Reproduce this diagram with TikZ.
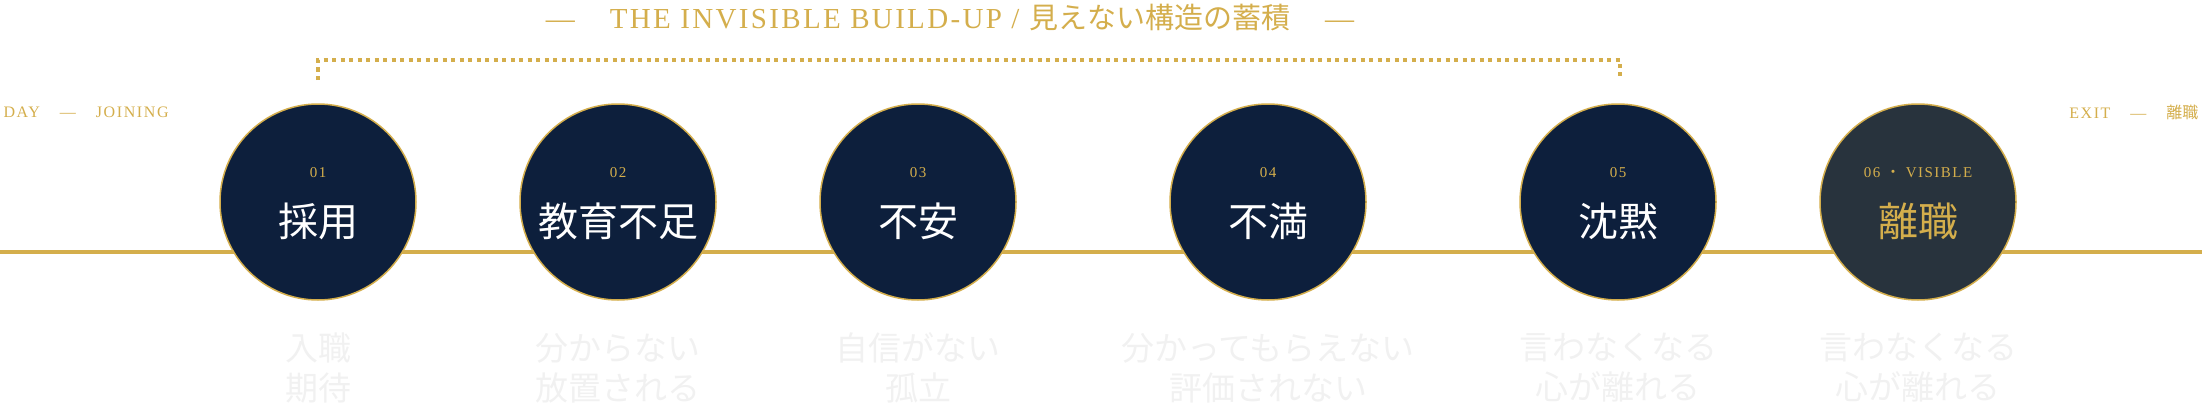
\documentclass[tikz,border=0pt]{standalone}
\usepackage{fontspec}
\setmainfont{Liberation Serif}
\newfontfamily\jp{Noto Sans CJK JP}
\begin{document}
\definecolor{gold}{HTML}{D4AE4C}
\definecolor{navy}{HTML}{0D1F3C}
\definecolor{slate}{HTML}{28333D}
\definecolor{faint}{HTML}{F1F1F1}
\begin{tikzpicture}[x=1pt,y=-1pt,
  stage/.style={circle,draw=gold,line width=1.5pt,fill=navy,minimum size=196pt,inner sep=0pt},
  num/.style={text=gold,font=\fontsize{15}{17}\selectfont\addfontfeature{LetterSpace=10}},
  lab/.style={text=white,font=\jp\fontsize{40}{44}\selectfont},
  sub/.style={text=faint,font=\jp\fontsize{33}{40}\selectfont,align=center},
  side/.style={text=gold,font=\fontsize{16}{18}\selectfont\addfontfeature{LetterSpace=10}}]
\useasboundingbox (0,0) rectangle (2202,404);
\coordinate (L) at (0,252);
\coordinate (R) at (2202,252);
\draw[gold,line width=4pt] (L) -- (R);
\foreach \i/\x/\n/\t/\s in {1/318/01/採用/{入職\\期待},2/618/02/教育不足/{分からない\\放置される},3/918/03/不安/{自信がない\\孤立},4/1268/04/不満/{分かってもらえない\\評価されない},5/1618/05/沈黙/{言わなくなる\\心が離れる}}{
  \node[stage] (c\i) at (\x,202) {};
  \node[num] (n\i) at (\x,173) {\n};
  \node[lab] (t\i) at (\x,221) {\t};
  \node[sub] (s\i) at (\x,368) {\s};
}
\node[stage,fill=slate] (c6) at (1918,202) {};
\node[num] (n6) at (1918,173) {06 {\jp・} VISIBLE};
\node[lab,text=gold] (t6) at (1918,221) {離職};
\node[sub] (s6) at (1918,368) {言わなくなる\\心が離れる};
\node[text=gold,font=\fontsize{29}{32}\selectfont\addfontfeature{LetterSpace=8}] (h) at (950,18) {—\hspace{35pt}THE INVISIBLE BUILD-UP / {\jp 見えない構造の蓄積}\hspace{35pt}—};
\coordinate (b1) at (318,80);
\coordinate (b2) at (1620,80);
\draw[gold,line width=3.5pt,dash pattern=on 4pt off 4.5pt] (b1) -- (318,60) -- (1620,60) -- (b2);
\node[side,anchor=west] (day) at (0,112) {DAY\hspace{20pt}—\hspace{20pt}JOINING};
\node[side,anchor=east] (exit) at (2202,112) {EXIT\hspace{20pt}—\hspace{20pt}{\jp 離職}};
\end{tikzpicture}
\end{document}
